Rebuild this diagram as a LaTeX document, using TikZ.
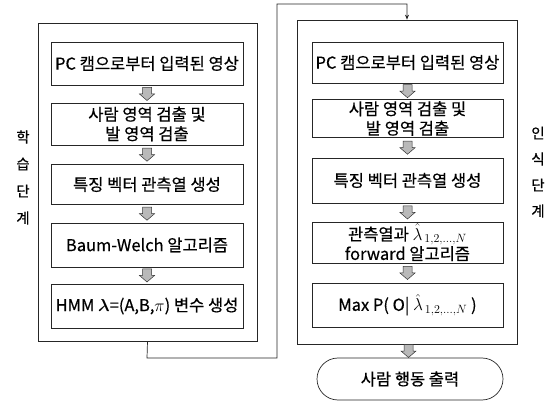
\documentclass[tikz,border=0pt]{standalone}
\usepackage{amsmath}
\usepackage{fontspec}
\setmainfont{Noto Sans CJK KR}[FakeBold=0.5]
\usetikzlibrary{shapes.misc,arrows.meta,calc}
\tikzset{
  outerbox/.style={draw=black!85, line width=0.7pt, inner sep=0pt},
  stepbox/.style={draw=black!85, line width=0.7pt, align=center, inner sep=0pt,
     font=\fontsize{16.5}{19.5}\selectfont},
  blockarrowpath/.style={draw=black!80, fill=gray!55, line width=0.5pt, line join=miter},
  sidelabel/.style={font=\fontsize{14.5}{16}\selectfont, inner sep=0pt},
  conn/.style={draw=black!85, line width=0.7pt},
  barrow/.pic={\path[blockarrowpath] (-4.5,-6.5) -- (4.5,-6.5) -- (4.5,0) -- (7.5,0) -- (0,6.5) -- (-7.5,0) -- (-4.5,0) -- cycle;},
}
\begin{document}
\begin{tikzpicture}[x=1pt,y=-1pt]
\useasboundingbox (0,0) rectangle (555,409);
% outer frames
\node[outerbox, minimum width=219pt, minimum height=318pt] (LO) at (147.5,182) {};
\node[outerbox, minimum width=220pt, minimum height=324pt] (RO) at (407,182) {};
% left column
\node[stepbox, minimum width=192pt, minimum height=43pt] (L1) at (147,63.5) {PC 캠으로부터 입력된 영상};
\node[stepbox, minimum width=192pt, minimum height=42pt] (L2) at (147,124) {사람 영역 검출 및\\발 영역 검출};
\node[stepbox, minimum width=192pt, minimum height=40pt] (L3) at (147,184.5) {특징 벡터 관측열 생성};
\node[stepbox, minimum width=192pt, minimum height=44pt] (L4) at (147,245) {Baum-Welch 알고리즘};
\node[stepbox, minimum width=192pt, minimum height=44pt] (L5) at (147,306) {HMM $\boldsymbol{\lambda}$=(A,B,$\pi$) 변수 생성};
% right column
\node[stepbox, minimum width=191pt, minimum height=41pt] (R1) at (407.5,62.5) {PC 캠으로부터 입력된 영상};
\node[stepbox, minimum width=191pt, minimum height=38pt] (R2) at (407.5,118.5) {사람 영역 검출 및\\발 영역 검출};
\node[stepbox, minimum width=191pt, minimum height=45pt] (R3) at (407.5,180.5) {특징 벡터 관측열 생성};
\node[stepbox, minimum width=191pt, minimum height=41pt] (R4) at (407.5,242.5) {관측열과 $\hat{\lambda}_{\,1,2,\ldots,N}$\\forward 알고리즘};
\node[stepbox, minimum width=191pt, minimum height=44pt] (R5) at (407.5,305) {Max P( O| $\hat{\lambda}_{\,1,2,\ldots,N}$ )};
\node[stepbox, rounded rectangle, minimum width=186pt, minimum height=42pt] (OUT) at (410,379) {사람 행동 출력};
% block arrows
\foreach \a/\b/\n in {L1/L2/la1, L2/L3/la2, L3/L4/la3, L4/L5/la4, R1/R2/ra1, R2/R3/ra2, R3/R4/ra3, R4/R5/ra4, RO/OUT/ra5}{
  \coordinate (\n) at ($(\a.south)!0.5!(\b.north)$);
  \pic at (\n) {barrow};
}
% connector from learning to recognition
\coordinate (c1) at (147,358);
\coordinate (c2) at (277,358);
\coordinate (c3) at (277,4);
\coordinate (c4) at (407,4);
\draw[conn, -{Stealth[length=5pt,width=4pt]}] (LO.south) -- (c1) -- (c2) -- (c3) -- (c4) -- (RO.north);
% side labels
\node[sidelabel] (s1) at (23,137) {학};
\node[sidelabel] (s2) at (23,164) {습};
\node[sidelabel] (s3) at (23,191) {단};
\node[sidelabel] (s4) at (23,218) {계};
\node[sidelabel] (t1) at (538,133) {인};
\node[sidelabel] (t2) at (538,159) {식};
\node[sidelabel] (t3) at (538,185) {단};
\node[sidelabel] (t4) at (538,211) {계};
\end{tikzpicture}
\end{document}
